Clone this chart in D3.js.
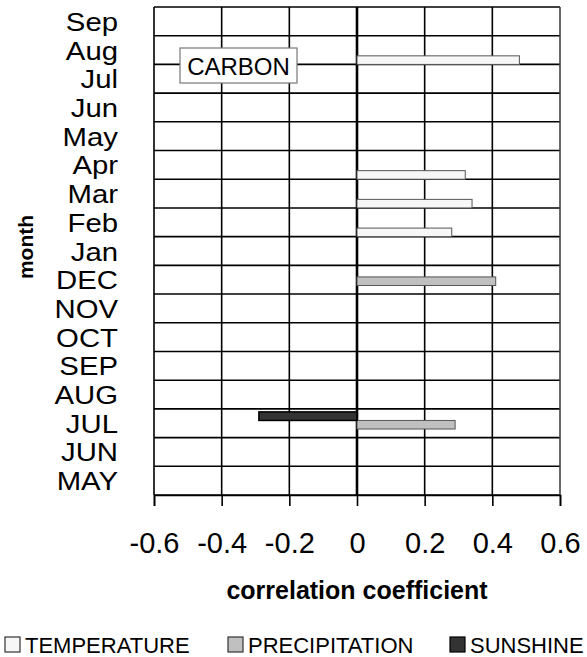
<!DOCTYPE html>
<html>
<head>
<meta charset="utf-8">
<script src="https://cdn.jsdelivr.net/npm/d3@7"></script>
<style>
  body { margin: 0; background: #fff; }
  text { font-family: "Liberation Sans", Arial, sans-serif; fill: #000; }
</style>
</head>
<body>
<div id="chart"></div>
<script>
// months from top to bottom, as in the chart
const months = ["Sep", "Aug", "Jul", "Jun", "May", "Apr", "Mar", "Feb", "Jan",
                "DEC", "NOV", "OCT", "SEP", "AUG", "JUL", "JUN", "MAY"];
const seriesNames = ["TEMPERATURE", "PRECIPITATION", "SUNSHINE"];
// correlation per month (null = no significant value)
const temperature   = [null, 0.48, null, null, null, 0.32, 0.34, 0.28, null, null, null, null, null, null, null, null, null];
const precipitation = [null, null, null, null, null, null, null, null, null, 0.41, null, null, null, null, 0.29, null, null];
const sunshine      = [null, null, null, null, null, null, null, null, null, null, null, null, null, null, -0.29, null, null];
const xTicks = [-0.6, -0.4, -0.2, 0, 0.2, 0.4, 0.6];
const xTickLabels = ["-0.6", "-0.4", "-0.2", "0", "0.2", "0.4", "0.6"];

const width = 587, height = 657;
const margin = { top: 7, right: 27, bottom: 162, left: 154 };

const svg = d3.select("#chart").append("svg")
  .attr("width", width)
  .attr("height", height);

const x = d3.scaleLinear().domain([-0.6, 0.6]).range([margin.left, width - margin.right]);
const y = d3.scaleBand().domain(months).range([margin.top, height - margin.bottom]).padding(0);

// sunshine sits on top, temperature at the bottom of each row
const sub = d3.scaleBand().domain(["SUNSHINE", "PRECIPITATION", "TEMPERATURE"])
  .range([3, y.bandwidth()]).padding(0);

const fills = { TEMPERATURE: "#f7f7f7", PRECIPITATION: "#c0c0c0", SUNSHINE: "#333333" };
const strokes = { TEMPERATURE: "#555", PRECIPITATION: "#555", SUNSHINE: "#000" };

const x0 = margin.left, x1 = width - margin.right;
const y0 = margin.top, y1 = height - margin.bottom;

// horizontal grid (row separators)
const rowEdges = months.map(m => y(m)).concat([y1]);
svg.append("g").selectAll("line").data(rowEdges).enter().append("line")
  .attr("x1", x0).attr("x2", x1)
  .attr("y1", d => d).attr("y2", d => d)
  .attr("stroke", "#000").attr("stroke-width", 1.6);

// vertical grid
svg.append("g").selectAll("line").data(xTicks).enter().append("line")
  .attr("x1", d => x(d)).attr("x2", d => x(d))
  .attr("y1", y0).attr("y2", y1)
  .attr("stroke", d => d === 0.6 ? "#444" : "#000")
  .attr("stroke-width", d => d === 0 ? 2.6 : 1.6);

// bars
const rows = [];
months.forEach((m, i) => {
  [["TEMPERATURE", temperature[i]], ["PRECIPITATION", precipitation[i]], ["SUNSHINE", sunshine[i]]]
    .forEach(([s, v]) => { if (v !== null) rows.push({ month: m, series: s, value: v }); });
});

svg.append("g").selectAll("rect").data(rows).enter().append("rect")
  .attr("x", d => x(Math.min(0, d.value)))
  .attr("width", d => Math.abs(x(d.value) - x(0)))
  .attr("y", d => y(d.month) + sub(d.series))
  .attr("height", sub.bandwidth())
  .attr("fill", d => fills[d.series])
  .attr("stroke", d => strokes[d.series])
  .attr("stroke-width", d => d.series === "SUNSHINE" ? 1.5 : 1);

// x axis
const xAxis = svg.append("g")
  .attr("transform", `translate(0,${y1})`)
  .call(d3.axisBottom(x).tickValues(xTicks).tickSize(11).tickPadding(26)
    .tickFormat((d, i) => xTickLabels[i]));
xAxis.select(".domain").attr("stroke", "#000").attr("stroke-width", 1.6);
xAxis.selectAll(".tick line").attr("stroke", "#000").attr("stroke-width", 1.6);
xAxis.selectAll(".tick text")
  .style("font-family", "'Liberation Sans', Arial, sans-serif")
  .style("font-size", "29px").attr("fill", "#000");

// y labels (slightly widened so they keep the reference width)
svg.append("g").selectAll("text").data(months).enter().append("text")
  .attr("transform", d => `translate(118,${y(d) + y.bandwidth() / 2 + 9.5}) scale(1.15,1)`)
  .attr("text-anchor", "end")
  .style("font-size", "25.5px")
  .text(d => d);

// axis titles
svg.append("text")
  .attr("transform", "translate(33,247) rotate(-90)")
  .attr("text-anchor", "middle")
  .style("font-size", "21px").style("font-weight", "bold")
  .text("month");

svg.append("text")
  .attr("x", x(0)).attr("y", 599)
  .attr("text-anchor", "middle")
  .style("font-size", "25px").style("font-weight", "bold")
  .text("correlation coefficient");

// CARBON label
svg.append("rect")
  .attr("x", 180).attr("y", 48).attr("width", 117).attr("height", 35)
  .attr("fill", "#fff").attr("stroke", "#777").attr("stroke-width", 1.2);
svg.append("text")
  .attr("x", 238.5).attr("y", 74.5)
  .attr("text-anchor", "middle")
  .style("font-size", "24px")
  .text("CARBON");

// legend
const legendX = [5, 228, 450];
const legend = svg.append("g").selectAll("g").data(seriesNames).enter().append("g")
  .attr("transform", (d, i) => `translate(${legendX[i]},637)`);
legend.append("rect")
  .attr("width", 15).attr("height", 15)
  .attr("fill", d => fills[d])
  .attr("stroke", d => d === "SUNSHINE" ? "#000" : "#333")
  .attr("stroke-width", 1.2);
legend.append("text")
  .attr("x", 20).attr("y", 16)
  .style("font-size", "22px")
  .text(d => d);
</script>
</body>
</html>
